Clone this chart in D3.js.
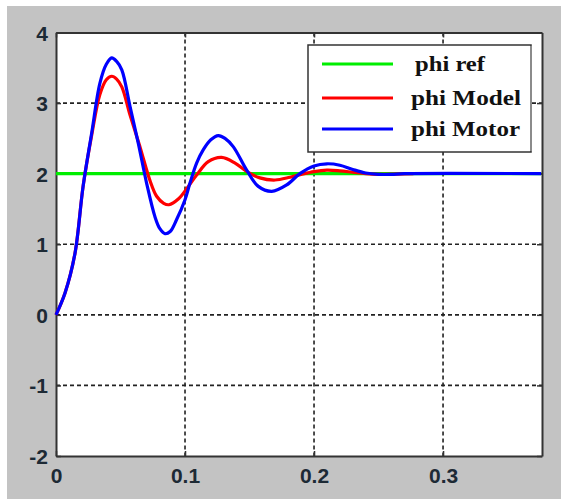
<!DOCTYPE html>
<html>
<head>
<meta charset="utf-8">
<script src="https://cdn.jsdelivr.net/npm/d3@7"></script>
<style>
body { margin: 0; background: #fff; }
</style>
</head>
<body>
<script>
// values
var xTicks = [0, 0.1, 0.2, 0.3];
var yTicks = [-2, -1, 0, 1, 2, 3, 4];
var xTickLabels = ["0", "0.1", "0.2", "0.3"];
var yTickLabels = ["-2", "-1", "0", "1", "2", "3", "4"];

var refT = [0, 0.376];
var refV = [2, 2];

var modelT = [0, 0.007, 0.0147, 0.021, 0.0277, 0.034, 0.039, 0.0432, 0.047, 0.051, 0.0574, 0.0651, 0.0729, 0.078, 0.0835, 0.0875, 0.0948, 0.1026, 0.109, 0.118, 0.1284, 0.1388, 0.148, 0.158, 0.1698, 0.1814, 0.19, 0.2, 0.21, 0.22, 0.23, 0.24, 0.25, 0.277];
var modelV = [0, 0.31, 0.87, 1.82, 2.55, 3.12, 3.33, 3.38, 3.34, 3.23, 2.83, 2.38, 1.9, 1.68, 1.58, 1.56, 1.64, 1.82, 1.98, 2.17, 2.23, 2.15, 2.03, 1.94, 1.91, 1.95, 1.99, 2.03, 2.05, 2.04, 2.02, 2.0, 1.99, 2.0];

var motorT = [0, 0.007, 0.0147, 0.021, 0.0277, 0.034, 0.039, 0.0432, 0.047, 0.051, 0.0574, 0.0638, 0.0703, 0.0767, 0.0805, 0.0845, 0.0885, 0.0935, 0.1, 0.1039, 0.109, 0.1142, 0.12, 0.1258, 0.131, 0.1375, 0.1478, 0.1568, 0.1672, 0.1788, 0.189, 0.2, 0.21, 0.22, 0.23, 0.24, 0.25, 0.26, 0.27, 0.376];
var motorV = [0, 0.31, 0.87, 1.82, 2.58, 3.28, 3.55, 3.64, 3.59, 3.47, 2.95, 2.43, 1.86, 1.39, 1.22, 1.15, 1.18, 1.35, 1.63, 1.87, 2.15, 2.34, 2.48, 2.54, 2.5, 2.38, 2.05, 1.82, 1.75, 1.84, 2.0, 2.11, 2.14, 2.12, 2.06, 2.01, 1.99, 1.99, 2.0, 2.0];

var seriesNames = ["phi ref", "phi Model", "phi Motor"];
var seriesColors = ["#00ee00", "#ff0000", "#0000ff"];

var width = 561, height = 499;
var plotLeft = 56, plotRight = 542, plotTop = 32.5, plotBottom = 456;

var svg = d3.select("body").append("svg").attr("width", width).attr("height", height);

// grey figure background
svg.append("rect").attr("x", 7).attr("y", 6).attr("width", width - 7).attr("height", height - 6).attr("fill", "#c3c3c3");
svg.append("rect").attr("x", plotLeft).attr("y", plotTop).attr("width", plotRight - plotLeft).attr("height", plotBottom - plotTop).attr("fill", "#fff");

var x = d3.scaleLinear().domain([0, 0.3767]).range([plotLeft, plotRight]);
var y = d3.scaleLinear().domain([-2, 4]).range([plotBottom, plotTop]);

// dashed grid
var grid = svg.append("g");
grid.selectAll("line.gx").data(xTicks.slice(1)).enter().append("line")
    .attr("x1", function(d){ return x(d); }).attr("x2", function(d){ return x(d); })
    .attr("y1", plotTop).attr("y2", plotBottom);
grid.selectAll("line.gy").data(yTicks.slice(1, -1)).enter().append("line")
    .attr("x1", plotLeft).attr("x2", plotRight)
    .attr("y1", function(d){ return y(d); }).attr("y2", function(d){ return y(d); });
grid.selectAll("line").attr("stroke", "#222").attr("stroke-width", 1.6).attr("stroke-dasharray", "4,3");

// axes, ticks pointing inwards
var xAxis = d3.axisBottom(x).tickValues(xTicks).tickSizeInner(-5).tickSizeOuter(0)
    .tickFormat(function(d, i){ return xTickLabels[i]; }).tickPadding(12);
var yAxis = d3.axisLeft(y).tickValues(yTicks).tickSizeInner(-5).tickSizeOuter(0)
    .tickFormat(function(d, i){ return yTickLabels[i]; }).tickPadding(8);

var gx = svg.append("g").attr("transform", "translate(0," + plotBottom + ")").call(xAxis);
var gy = svg.append("g").attr("transform", "translate(" + plotLeft + ",0)").call(yAxis);
svg.append("g").attr("transform", "translate(0," + plotTop + ")")
    .call(d3.axisTop(x).tickValues(xTicks).tickSizeInner(-5).tickSizeOuter(0).tickFormat(""));
svg.append("g").attr("transform", "translate(" + plotRight + ",0)")
    .call(d3.axisRight(y).tickValues(yTicks).tickSizeInner(-5).tickSizeOuter(0).tickFormat(""));

svg.selectAll(".domain").attr("stroke", "#333").attr("stroke-width", 2);
svg.selectAll(".tick line").attr("stroke", "#333").attr("stroke-width", 1.5);
svg.selectAll(".tick text")
    .attr("font-family", "'Liberation Sans', Arial, sans-serif")
    .attr("font-weight", "bold").attr("font-size", 21).attr("fill", "#1d2a35");
gx.selectAll(".tick text").attr("dy", "0.71em");
gy.selectAll(".tick text").attr("dy", "0.36em");

// curves
var line = d3.line()
    .x(function(d){ return x(d[0]); })
    .y(function(d){ return y(d[1]); })
    .curve(d3.curveCatmullRom);

var series = [d3.zip(refT, refV), d3.zip(modelT, modelV), d3.zip(motorT, motorV)];

svg.append("g").selectAll("path").data(series).enter().append("path")
    .attr("d", line)
    .attr("fill", "none")
    .attr("stroke", function(d, i){ return seriesColors[i]; })
    .attr("stroke-width", 3.2)
    .attr("stroke-linejoin", "round");

// legend
var lg = svg.append("g");
lg.append("rect").attr("x", 308).attr("y", 45).attr("width", 223).attr("height", 107)
    .attr("fill", "#fff").attr("stroke", "#333").attr("stroke-width", 1.5);
lg.append("line").attr("x1", 531).attr("x2", 531).attr("y1", 46).attr("y2", 151)
    .attr("stroke", "#999").attr("stroke-width", 1.5);

var rowY = [64, 98, 129];
var textW = [70, 110, 109];
lg.selectAll("line.item").data(seriesNames).enter().append("line")
    .attr("x1", 322).attr("x2", 393)
    .attr("y1", function(d, i){ return rowY[i]; }).attr("y2", function(d, i){ return rowY[i]; })
    .attr("stroke", function(d, i){ return seriesColors[i]; })
    .attr("stroke-width", 3);
lg.selectAll("text").data(seriesNames).enter().append("text")
    .attr("x", function(d, i){ return i == 0 ? 415 : 411; })
    .attr("y", function(d, i){ return rowY[i] + 7; })
    .attr("font-family", "'Liberation Serif', 'Times New Roman', serif")
    .attr("font-weight", "bold").attr("font-size", 21).attr("fill", "#111")
    .attr("textLength", function(d, i){ return textW[i]; })
    .attr("lengthAdjust", "spacingAndGlyphs")
    .text(function(d){ return d; });
</script>
</body>
</html>
